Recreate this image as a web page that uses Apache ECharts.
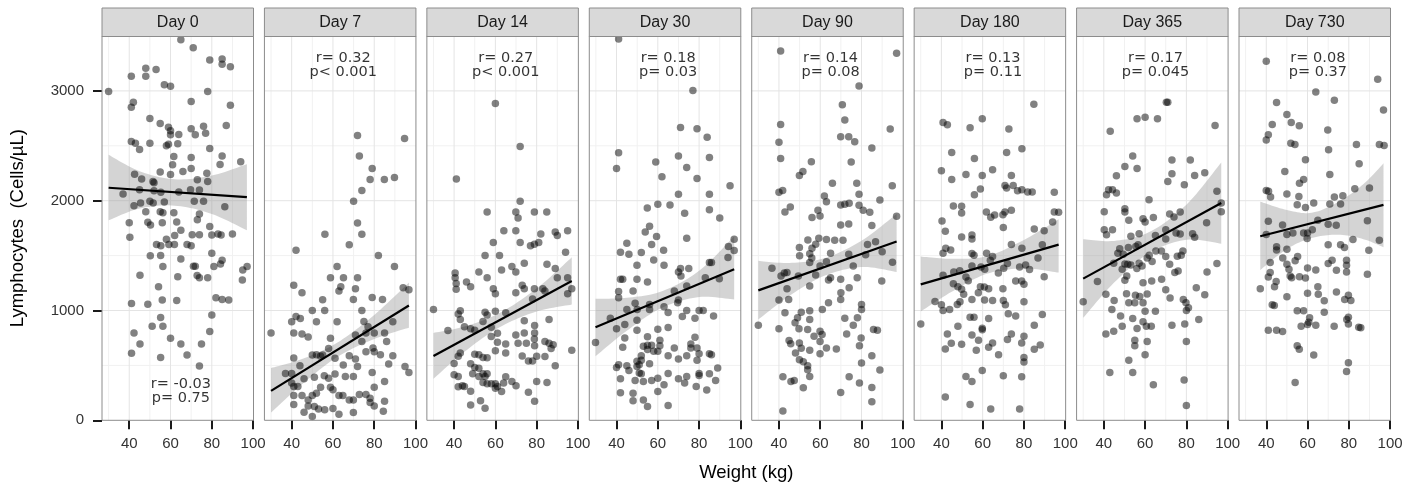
<!DOCTYPE html>
<html><head><meta charset="utf-8">
<script src="https://cdn.jsdelivr.net/npm/echarts@6/dist/echarts.min.js"></script>
<style>html,body{margin:0;padding:0;background:#fff}#c{width:1416px;height:486px}</style>
</head><body><div id="c"></div>
<script>
// ---------- data ----------
const panels = ['Day 0','Day 7','Day 14','Day 30','Day 90','Day 180','Day 365','Day 730'];
const xTicks = [40,60,80,100];
const yTicks = [0,1000,2000,3000];
const gridMajorX = [40,60,80];
const gridMinorX = [30,50,70,90];
const gridMajorY = [1000,2000,3000];
const gridMinorY = [500,1500,2500];

const pts0 = [[30,2995],[65,3465],[71,3394],[79,3282],[85,3291],[85,3242],[89,3221],[48,3206],[53,3194],[41,3133],[48,3133],[57,3055],[60,3042],[78,2994],[42,2897],[41,2852],[70,2903],[89,2870],[50,2748],[55,2703],[59,2670],[60,2636],[60,2600],[64,2603],[70,2655],[72,2600],[76,2679],[77,2615],[87,2685],[41,2539],[43,2524],[50,2524],[45,2467],[58,2500],[59,2515],[63.5,2518],[79,2476],[61.6,2403],[70,2394],[85,2406],[94,2355],[61,2327],[70,2294],[84,2330],[66,2267],[55,2261],[42.6,2242],[60,2239],[77.6,2249],[46,2197],[51.5,2176],[52,2164],[73,2191],[78,2176],[37,2061],[45,2100],[52,2091],[55.3,2076],[64,2079],[69.7,2100],[74,2097],[42.3,1955],[45.5,1979],[50,1994],[51.6,1979],[57,1988],[71.5,1994],[76,1994],[86.3,1945],[48,1900],[55,1900],[56.3,1891],[61.6,1891],[74,1879],[73,1827],[40,1800],[49,1803],[50.3,1779],[56,1800],[63,1806],[65,1730],[79,1764],[83,1697],[70.5,1691],[74,1691],[80,1688],[84.5,1688],[90,1697],[40.3,1667],[58,1649],[62,1682],[53.2,1601],[55.3,1589],[59.2,1601],[61.9,1601],[68,1601],[70,1589],[50.2,1498],[55.2,1501],[65,1470],[80,1522],[45.2,1321],[56.3,1400],[71.1,1403],[72,1403],[81,1400],[85,1458],[84.2,1424],[63.5,1308],[72.9,1318],[74,1299],[78,1299],[94.8,1278],[97.1,1400],[95,1369],[54.2,1217],[41.1,1064],[49,1058],[56,1095],[63,1092],[82,1116],[85,1101],[88.2,1095],[80,958],[42.3,796],[51.1,857],[55.2,936],[56.3,857],[60,747],[79,808],[45.2,695],[65,695],[75,695],[41.1,610],[55.2,573],[68,595],[74,494]];

const pts7 = [[71.9,2594],[94.7,2567],[72.8,2406],[79,2294],[78,2194],[84.9,2194],[89.8,2212],[74,2094],[70,1994],[71.9,1797],[56.1,1694],[74,1694],[42.1,1549],[67.9,1598],[82,1501],[89.8,1400],[62,1400],[58.8,1299],[65.1,1299],[71.9,1299],[41,1229],[45,1162],[63.8,1217],[62.9,1177],[70.9,1199],[69.9,1101],[79,1119],[84,1101],[55,1098],[94,1208],[96.8,1190],[50,1000],[56,1000],[74,1000],[40,897],[42.1,946],[44.2,927],[52,897],[62,897],[30,796],[41,796],[45,787],[48,759],[58.8,747],[75,900],[77,851],[76,796],[80,796],[85,796],[89,897],[70.9,778],[86,717],[74,717],[57.9,653],[55,595],[52,598],[50,595],[54,583],[41,567],[79.4,659],[80,625],[76,625],[83,598],[89,589],[67.9,589],[70.9,558],[61,564],[37,427],[40,427],[44,497],[40,339],[41,308],[43,308],[46,378],[51,393],[55.8,406],[57.9,384],[61,421],[65,503],[66,400],[69.9,400],[71.9,491],[79,436],[85,354],[87,512],[94.9,491],[96.8,436],[41,226],[45,226],[48,186],[50,226],[52,247],[54,302],[58.8,302],[60,278],[62.9,226],[64.8,226],[67.9,186],[69.9,186],[72.8,235],[76,235],[78,162],[80,131],[78,201],[80,302],[85,174],[41,143],[46,73],[50,34],[53,104],[56,95],[60,107],[62.9,55],[69.9,70],[84.4,82],[48,131],[51,125]];

const pts14 = [[60,2885],[72,2494],[41.1,2197],[72,1994],[56,1897],[69.9,1897],[78.9,1897],[84.9,1897],[71,1843],[64.1,1727],[69.9,1727],[82,1697],[89,1715],[90,1682],[95,1727],[59,1620],[72,1620],[77,1589],[78.9,1604],[81,1620],[55,1501],[62,1501],[94,1531],[52,1351],[56,1299],[63,1369],[68,1400],[69.9,1351],[74,1430],[85,1421],[89,1382],[40.5,1342],[40.5,1299],[41,1247],[41,1193],[46,1260],[48,1217],[59,1199],[60,1153],[69.9,1162],[74,1199],[73,1229],[78.9,1199],[83,1199],[84,1177],[90,1299],[95,1299],[97,1199],[95,1153],[78,1104],[30,1009],[43,997],[42,967],[43,918],[37,817],[45,851],[48,833],[50,820],[55,985],[56,958],[60,994],[65,979],[54,900],[58,848],[58,763],[61,793],[74,906],[79,863],[86,918],[79,796],[69.9,778],[74,796],[78.9,741],[71,702],[75,702],[84,717],[86,702],[88,689],[87,653],[79,680],[61,711],[65,695],[60,634],[65,613],[52,598],[40,518],[42,583],[43,613],[50,601],[54,573],[56,570],[73,586],[76,540],[78,540],[80,583],[84,580],[89,497],[97,637],[48,515],[50,482],[52,473],[54,424],[56,424],[55,400],[52,400],[49,424],[40,415],[42,400],[42,305],[44,314],[45,308],[48,265],[54,345],[56,332],[58,332],[60,332],[60,293],[61,308],[65,397],[64,339],[63,262],[68,354],[70,314],[80,354],[85,345],[76,256],[79,174],[52.8,177],[48,140],[55,110]];

const pts30 = [[41,3473],[77,3003],[71,2667],[79,2655],[83.9,2579],[41,2436],[70,2406],[40,2294],[59,2352],[74,2303],[85,2394],[62,2218],[79,2203],[95,2136],[70,2058],[85,2058],[54.9,1933],[60,1967],[65.9,1961],[73,1885],[85,1918],[90,1843],[56,1767],[53.9,1715],[59.4,1673],[74,1658],[97,1649],[45,1613],[57,1601],[94.2,1583],[97,1546],[41.9,1531],[46,1513],[52,1528],[58,1461],[49.9,1412],[62.8,1549],[63,1412],[70,1351],[71,1382],[75,1382],[71.2,1314],[85,1437],[86,1437],[94,1482],[89.8,1290],[83,1299],[41.9,1284],[43,1284],[49.9,1284],[55,1260],[48,1177],[41,1174],[41,1116],[68,1177],[70,1095],[74,1223],[49,1067],[45,1009],[50,1009],[56,1055],[56,1009],[63,1034],[65,982],[69.6,1070],[74,1000],[71.9,946],[80,1000],[82,1000],[78,930],[87,949],[37,930],[44,872],[49.9,912],[40,833],[49.9,820],[60,830],[65,845],[29.8,708],[44,750],[43,665],[55,762],[55,683],[55,644],[53,674],[57,683],[61,729],[61,680],[60,628],[58,628],[52,589],[49.9,537],[52,546],[65,589],[68,659],[70,558],[74,589],[76,695],[78,756],[76,659],[79,659],[80,607],[79,546],[85,607],[86,598],[89,476],[40,482],[41,506],[45,497],[46,454],[49.9,491],[51,430],[52,424],[51,506],[56,515],[41.9,378],[49,363],[53,354],[57,363],[60,384],[63,323],[65,427],[70,378],[74,400],[73,339],[80,427],[80,409],[85,424],[88,363],[41.9,250],[48,247],[60,262],[78.6,308],[83.7,275],[48,177],[53,186],[55,125],[65,134]];

const pts90 = [[40.8,3364],[97,3342],[78.8,3045],[70.7,2873],[71.9,2736],[40.8,2694],[93.9,2652],[40,2533],[69.9,2582],[73.8,2582],[76.7,2536],[85,2479],[40.8,2385],[55.7,2355],[75,2352],[51.6,2267],[49.9,2230],[65.9,2158],[77.7,2158],[94.9,2136],[40,2076],[41.8,2094],[62,2042],[63,1991],[78.8,2058],[69.9,1961],[71.9,1967],[74,1976],[78.8,1958],[80.8,1912],[84,1894],[88.9,2006],[42.9,1897],[45.5,1942],[58.9,1912],[56,1846],[59.9,1861],[69.9,1779],[73.8,1788],[85,1773],[97,1858],[54,1643],[59.3,1658],[63,1646],[67,1640],[71,1640],[49.9,1574],[50,1498],[54.9,1516],[54.9,1437],[55.9,1479],[56,1568],[57.8,1604],[65,1522],[59.9,1406],[63,1443],[36.6,1385],[41,1314],[42.6,1342],[43.9,1345],[49.4,1314],[57.8,1324],[64,1278],[65,1299],[69.9,1284],[73.8,1513],[76,1406],[82,1507],[82.9,1601],[86.8,1626],[90,1534],[95,1440],[89.8,1269],[77.9,1299],[54.9,1223],[43.9,1199],[40,1095],[44.7,1101],[64,1070],[70,1162],[74,1208],[69.9,1101],[80,1055],[80,1009],[42.9,979],[50.8,985],[54.9,997],[54.9,918],[49,933],[47.8,888],[61,1009],[30,866],[40,833],[49.7,833],[53.9,827],[59.9,811],[60.9,781],[57,766],[71.9,930],[76,866],[78,933],[72.8,787],[79,680],[79.8,750],[85.8,827],[87.7,821],[44.9,726],[45.7,698],[49.9,705],[50.8,656],[48,613],[59.9,717],[63,659],[67.8,650],[54.9,637],[59.9,607],[49.9,552],[51.8,534],[53.9,497],[53.9,461],[54.9,400],[80,522],[85,589],[88.9,458],[41.9,397],[45.8,354],[47.4,363],[51.8,296],[74,397],[79,339],[85,299],[69.9,253],[85,168],[41.9,85]];

const pts180 = [[84.8,2879],[40.8,2712],[42.9,2691],[53.9,2664],[59.8,2746],[72.7,2652],[45,2439],[56,2385],[71.6,2439],[79,2473],[40,2273],[45,2194],[51.9,2239],[59.8,2230],[64.8,2282],[73.9,2230],[70.8,2139],[71.6,2115],[74.8,2139],[76.9,2091],[79,2100],[81.8,2079],[84,2079],[94.7,2076],[58.9,2106],[56,2055],[45.8,1952],[49.8,1949],[49.8,1888],[61.8,1897],[63.9,1849],[65.8,1870],[69.8,1873],[70.8,1897],[73.9,1912],[94.7,1897],[96.8,1894],[40.3,1815],[41.9,1721],[49.8,1670],[54.8,1688],[54.8,1652],[70,1755],[85,1742],[89.8,1727],[93.9,1806],[42.1,1568],[40.8,1522],[44.5,1552],[73.9,1601],[79,1568],[54.8,1519],[55.8,1504],[61.9,1522],[64.8,1492],[63.7,1458],[86.8,1479],[88.9,1598],[46,1351],[48.9,1363],[54.8,1406],[59.2,1397],[61,1376],[67.6,1342],[70.2,1385],[72,1427],[77.9,1397],[80.8,1415],[82.7,1373],[40.8,1321],[51.9,1305],[53,1272],[45.8,1244],[48,1217],[49.8,1193],[50.8,1147],[58.9,1217],[60.8,1214],[62.9,1199],[57.9,1162],[69.8,1199],[76,1269],[78.9,1269],[80,1238],[89.8,1308],[36.9,1083],[40,1052],[40.8,1000],[44,1009],[47.7,1055],[49,1080],[54.8,1101],[60.9,1095],[64.8,1092],[70,1092],[71,1052],[80,1080],[72.4,970],[76,949],[53.9,939],[55.8,939],[62.9,927],[30,878],[48,857],[59.8,839],[59.8,824],[85,866],[88.9,964],[42.9,787],[54.8,778],[58,729],[72,735],[73.9,787],[80,766],[44.8,702],[49.8,692],[62.9,665],[64.8,705],[78.9,705],[41.9,650],[56.9,637],[67.7,598],[85,647],[87.9,686],[80,573],[80,531],[51.9,400],[54.8,354],[59.8,454],[70,406],[78.9,397],[41.9,213],[53.9,143],[63.9,104],[77.9,104]];

const pts365 = [[70.3,2897],[71,2897],[56.1,2746],[60,2761],[66,2746],[43.1,2633],[93.9,2685],[54,2406],[50.2,2312],[56.1,2294],[46.1,2227],[73,2370],[81.9,2370],[73,2245],[71,2176],[79,2146],[84,2230],[88.9,2254],[42.3,2100],[44.2,2100],[41.3,2055],[46.1,2070],[61.9,2009],[94.8,2085],[96.9,1979],[96.9,1900],[40.2,1900],[50.2,1927],[50.2,1897],[52.1,1821],[59,1836],[60,1806],[64,1846],[71.9,1879],[74,1852],[77,1897],[89.8,1800],[40.2,1736],[44.2,1736],[41.3,1691],[53.1,1676],[57.1,1700],[65,1682],[70,1736],[75,1706],[77,1697],[83,1700],[84,1667],[70,1652],[47.7,1562],[49.4,1513],[51.9,1574],[50.2,1424],[51.6,1421],[55.5,1583],[56.6,1598],[61,1479],[62,1504],[63.4,1446],[65.2,1543],[67.9,1543],[70,1491],[71.9,1421],[75.6,1495],[77.5,1504],[78.3,1543],[57.1,1430],[58.5,1406],[56,1382],[53.1,1415],[48.9,1376],[44.8,1430],[46.8,1522],[50.2,1275],[51.1,1314],[36.9,1263],[59,1253],[63.2,1269],[68,1284],[74.4,1345],[76,1360],[90,1351],[94.8,1427],[84.8,1208],[88.9,1144],[70,1190],[72.1,1113],[61,1150],[41,1147],[45,1092],[51,1153],[52.1,1070],[55.3,1138],[55,1070],[57.4,1128],[59,1070],[78.5,1101],[79.8,1070],[30,1080],[43.9,1009],[60,994],[65,994],[80,1000],[81,1025],[48.1,949],[54,927],[59,897],[63,857],[48.9,857],[44.8,811],[41,787],[56.1,836],[60.6,857],[73,866],[79.2,878],[86,918],[55,729],[55,680],[61,717],[80,717],[52.1,546],[60,598],[54,436],[42.9,436],[64,323],[78.9,366],[80,134]];

const pts730 = [[40,3270],[94,3106],[64,2991],[45,2894],[73,2915],[96.8,2827],[50,2785],[52.1,2712],[42.9,2694],[56,2682],[69.8,2645],[41,2600],[40,2552],[51.9,2524],[53.9,2512],[70.2,2464],[83.7,2512],[94.8,2512],[97.1,2503],[59,2373],[85,2336],[49,2267],[70.8,2239],[58.1,2194],[56.1,2158],[40,2094],[41.1,2085],[42.1,2033],[50,2061],[55.8,2039],[82.9,2109],[90,2115],[55,1964],[59,1939],[63,1979],[70.8,1970],[76,1970],[77.1,2045],[73,2033],[41,1812],[47.9,1779],[52.9,1706],[58.1,1706],[60,1706],[62.3,1736],[65,1821],[70,1785],[73.9,1776],[89,1818],[94.8,1640],[82,1646],[59.8,1655],[40,1692],[50,1692],[70,1598],[76,1598],[77.9,1574],[89.7,1549],[45,1580],[45,1552],[50,1558],[41.9,1437],[48,1479],[55.2,1491],[54,1452],[50,1421],[51,1376],[51.6,1315],[52.3,1299],[41.9,1345],[41,1305],[44.8,1263],[44,1217],[37.1,1199],[56.1,1308],[59,1296],[60,1388],[64,1369],[70,1427],[71.9,1458],[74,1366],[78.9,1458],[78.9,1412],[78.9,1351],[89,1330],[65,1217],[65.2,1147],[60,1156],[50,1125],[68.1,1089],[74,1168],[78,1101],[79.8,1138],[81,1092],[42.9,1052],[43.9,1046],[55,997],[58.1,997],[68.1,985],[61,933],[60,872],[60.6,894],[56.9,857],[64,866],[41,820],[45,820],[47.9,808],[72.9,857],[79,918],[79.8,939],[79.8,878],[84.8,848],[85.8,842],[55,680],[56,647],[63,595],[79.8,525],[78.9,445],[54,345]];

// fitted lines (end points)
const fit0 = [[30,2118],[97,2032]];
const fit7 = [[30,268],[96.8,1046]];
const fit14 = [[30,586],[97,1269]];
const fit30 = [[29.8,848],[97,1376]];
const fit90 = [[30,1183],[97,1629]];
const fit180 = [[30,1238],[96.8,1600]];
const fit365 = [[30,1290],[96.9,1979]];
const fit730 = [[37.1,1676],[96.8,1962]];

// confidence bands
const band0X = [30,45,62,80,97],     band0Lo = [1821,1929,1955,1879,1730],  band0Hi = [2418,2269,2195,2229,2333];
const band7X = [30,45,62,80,96.8],   band7Lo = [70,328,576,740,844],        band7Hi = [476,558,706,960,1254];
const band14X = [30,45,62,80,97],    band14Lo = [378,624,847,991,1054],     band14Hi = [796,854,977,1201,1484];
const band30X = [29.8,45,62,80,97],  band30Lo = [583,816,1025,1122,1100],   band30Hi = [1107,1116,1175,1362,1675];
const band90X = [30,45,62,80,97],    band90Lo = [918,1133,1316,1396,1350],  band90Hi = [1452,1433,1476,1636,1880];
const band180X = [30,45,62,80,96.8], band180Lo = [991,1171,1334,1383,1345], band180Hi = [1491,1471,1494,1643,1830];
const band365X = [30,45,62,80,96.9], band365Lo = [933,1254,1524,1644,1609], band365Hi = [1650,1634,1714,1964,2349];
const band730X = [37.1,50,62,75,87,96.8], band730Lo = [1369,1560,1660,1690,1650,1576], band730Hi = [1991,1915,1890,1990,2150,2340];

const annText = ['r= -0.03\np= 0.75','r= 0.32\np< 0.001','r= 0.27\np< 0.001','r= 0.18\np= 0.03','r= 0.14\np= 0.08','r= 0.13\np= 0.11','r= 0.17\np= 0.045','r= 0.08\np= 0.37'];
const annX = [65,65,65,65,65,65,65,65];
const annY = [266,3236,3236,3236,3236,3236,3236,3236];

// ---------- layout ----------
const allPts = [pts0,pts7,pts14,pts30,pts90,pts180,pts365,pts730];
const allFit = [fit0,fit7,fit14,fit30,fit90,fit180,fit365,fit730];
const allBX = [band0X,band7X,band14X,band30X,band90X,band180X,band365X,band730X];
const allLo = [band0Lo,band7Lo,band14Lo,band30Lo,band90Lo,band180Lo,band365Lo,band730Lo];
const allHi = [band0Hi,band7Hi,band14Hi,band30Hi,band90Hi,band180Hi,band365Hi,band730Hi];

const L0 = 102, PITCH = 162.43, W = 151.5, TOP = 36, H = 384.3;
const X_MIN = 26.8, X_MAX = 100.2, Y_MIN = 0, Y_MAX = 3500;
const FONT = '"Liberation Sans", Arial, Helvetica, sans-serif';

function renderGrid(params, api) {
  const cs = params.coordSys;
  const orient = api.value(2), major = api.value(3);
  const style = {stroke: major ? '#e4e4e4' : '#f1f1f1', lineWidth: 1};
  let shape;
  if (orient === 0) {
    const x = api.coord([api.value(0), 1750])[0];
    shape = {x1: x, y1: cs.y, x2: x, y2: cs.y + cs.height};
  } else {
    const y = api.coord([60, api.value(1)])[1];
    shape = {x1: cs.x, y1: y, x2: cs.x + cs.width, y2: y};
  }
  return {type: 'line', shape: shape, style: style, silent: true};
}

// smooth drawing of a polyline given in pixels (Catmull-Rom, sampled for rendering only)
function smoothPixels(P) {
  const out = [];
  const n = P.length;
  for (let i = 0; i < n - 1; i++) {
    const p0 = P[Math.max(i - 1, 0)], p1 = P[i], p2 = P[i + 1], p3 = P[Math.min(i + 2, n - 1)];
    for (let s = 0; s < 12; s++) {
      const t = s / 12, t2 = t * t, t3 = t2 * t;
      const f = (a, b, c, d) => 0.5 * ((2 * b) + (-a + c) * t + (2 * a - 5 * b + 4 * c - d) * t2 + (-a + 3 * b - 3 * c + d) * t3);
      out.push([f(p0[0], p1[0], p2[0], p3[0]), f(p0[1], p1[1], p2[1], p3[1])]);
    }
  }
  out.push(P[n - 1]);
  return out;
}

function makeBandRender(k) {
  return function (params, api) {
    const bx = allBX[k], lo = allLo[k], hi = allHi[k];
    const up = bx.map((x, i) => api.coord([x, hi[i]]));
    const dn = bx.map((x, i) => api.coord([x, lo[i]]));
    const pts = smoothPixels(up).concat(smoothPixels(dn).reverse());
    return {type: 'polygon', shape: {points: pts}, style: {fill: 'rgba(153,153,153,0.42)'}, silent: true};
  };
}

const gridData = [];
gridMinorX.forEach(v => gridData.push([v, 1750, 0, 0]));
gridMinorY.forEach(v => gridData.push([60, v, 1, 0]));
gridMajorX.forEach(v => gridData.push([v, 1750, 0, 1]));
gridMajorY.forEach(v => gridData.push([60, v, 1, 1]));

const option = {animation: false, backgroundColor: '#ffffff', grid: [], xAxis: [], yAxis: [], series: [], graphic: []};

panels.forEach((name, k) => {
  const left = L0 + k * PITCH;
  option.grid.push({left: left, top: TOP, width: W, height: H, show: true, borderColor: '#8c8c8c', borderWidth: 1, backgroundColor: 'transparent', z: 6});
  option.xAxis.push({type: 'value', gridIndex: k, min: X_MIN, max: X_MAX,
    axisLine: {show: false}, splitLine: {show: false},
    axisTick: {show: true, length: 9, customValues: xTicks, lineStyle: {color: '#1a1a1a', width: 2}},
    axisLabel: {show: true, customValues: xTicks, fontSize: 15, color: '#333333', margin: 16, fontFamily: FONT, formatter: v => String(v)}});
  option.yAxis.push({type: 'value', gridIndex: k, min: Y_MIN, max: Y_MAX,
    axisLine: {show: false}, splitLine: {show: false},
    axisTick: {show: k === 0, length: 9, customValues: yTicks, lineStyle: {color: '#1a1a1a', width: 2}},
    axisLabel: {show: k === 0, customValues: yTicks, fontSize: 15, color: '#333333', margin: 18, fontFamily: FONT, formatter: v => String(v)}});

  option.series.push({type: 'custom', xAxisIndex: k, yAxisIndex: k, renderItem: renderGrid, data: gridData, z: 0, silent: true});

  option.series.push({type: 'custom', xAxisIndex: k, yAxisIndex: k, renderItem: makeBandRender(k),
    data: [[allBX[k][0], allLo[k][0]]], z: 1, silent: true});

  option.series.push({type: 'scatter', xAxisIndex: k, yAxisIndex: k, data: allPts[k], symbol: 'circle', symbolSize: 7.5,
    itemStyle: {color: 'rgba(0,0,0,0.62)'}, z: 2, silent: true});

  option.series.push({type: 'line', xAxisIndex: k, yAxisIndex: k, data: allFit[k], symbol: 'none', showSymbol: false,
    lineStyle: {color: '#000', width: 2.2}, z: 3, silent: true});

  option.series.push({type: 'scatter', xAxisIndex: k, yAxisIndex: k, data: [[annX[k], annY[k]]], symbolSize: 1,
    itemStyle: {color: 'rgba(0,0,0,0)'}, z: 4, silent: true,
    label: {show: true, position: 'inside', formatter: annText[k], fontSize: 14.5, lineHeight: 14.5,
      color: '#000', fontFamily: 'DejaVu Sans', align: 'center'}});

  option.graphic.push({type: 'rect', shape: {x: left, y: 8, width: W, height: 28.5},
    style: {fill: '#d9d9d9', stroke: '#8c8c8c', lineWidth: 1}, z: 10, silent: true});
  option.graphic.push({type: 'text', x: left + W / 2, y: 23, z: 11, silent: true,
    style: {text: name, fill: '#1a1a1a', font: '16px ' + FONT, align: 'center', verticalAlign: 'middle'}});
});

option.graphic.push({type: 'text', x: L0 + (7 * PITCH + W) / 2, y: 473, silent: true,
  style: {text: 'Weight (kg)', fill: '#000', font: '18.5px ' + FONT, align: 'center', verticalAlign: 'middle'}});
option.graphic.push({type: 'text', x: 18, y: TOP + H / 2, rotation: Math.PI / 2, silent: true,
  style: {text: 'Lymphocytes  (Cells/µL)', fill: '#000', font: '18.5px ' + FONT, align: 'center', verticalAlign: 'middle'}});

const chart = echarts.init(document.getElementById('c'), null, {renderer: 'canvas'});
chart.setOption(option);
</script>
</body></html>
